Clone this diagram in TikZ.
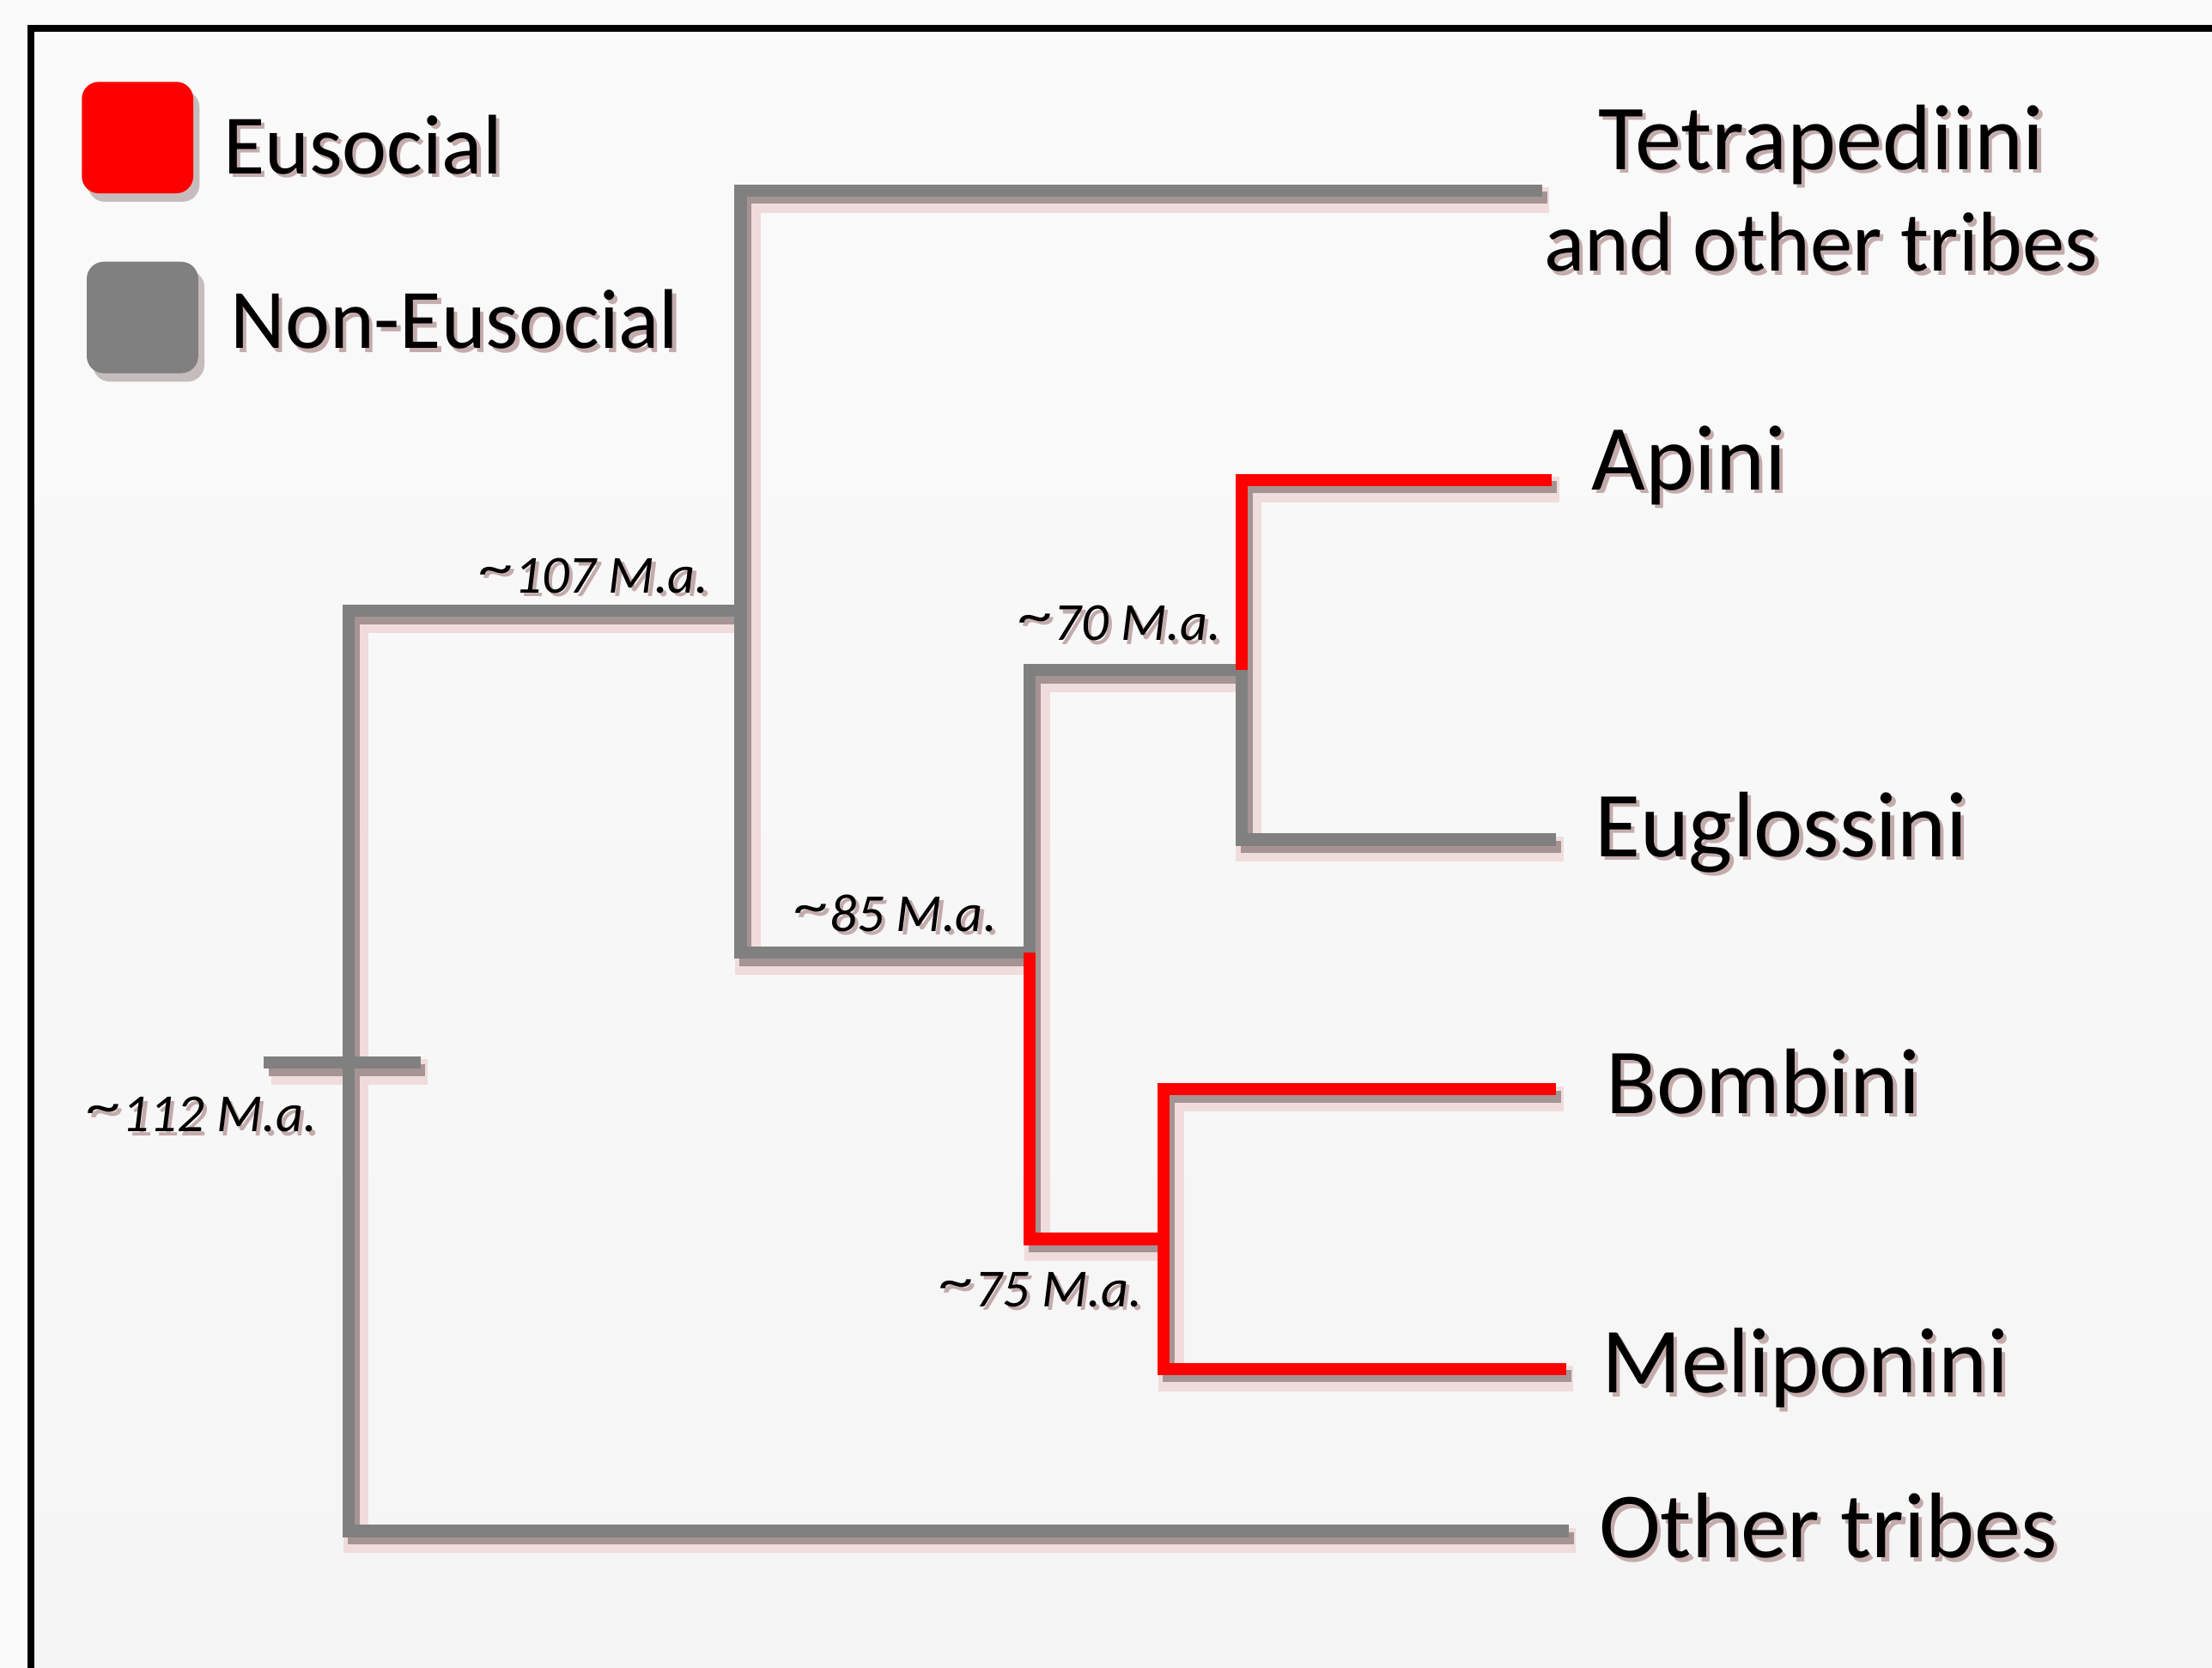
\documentclass[tikz,border=0pt]{standalone}
\usepackage{fontspec}
\usepackage{graphicx}
\setmainfont{Carlito}
\usetikzlibrary{shadows}
\definecolor{brgray}{HTML}{808080}
\definecolor{brred}{HTML}{FF0000}
\definecolor{shpink}{HTML}{F0DCDC}
\definecolor{shdark}{HTML}{A69494}
\definecolor{txshadow}{HTML}{C4ABAB}
\newcommand\shtxt[1]{\makebox[0pt][l]{\hspace{1.3pt}\raisebox{-1.4pt}{\textcolor{txshadow}{#1}}}#1}
\newcommand\tld{\raisebox{0.14em}{\scalebox{1.3}[1.0]{\textasciitilde}}}
\newcommand\treelines[2]{%
  \draw[#1] (tet) -- (c107top) -- (c85) -- (n85) -- (c70) -- (n70) -- (c70bot) -- (eug);
  \draw[#1] (n107) -- (c112top) -- (c112bot) -- (oth);
  \draw[#1] (tickL) -- (tickR);
  \draw[#2] (n85) -- (c75) -- (n75);
  \draw[#2] (bom) -- (c75top) -- (c75bot) -- (mel);
  \draw[#2] (n70) -- (c70top) -- (api);
}
\begin{document}
\begin{tikzpicture}[x=0.5pt,y=-0.5pt,
  branch/.style={line width=4.3pt, line join=miter, line cap=butt},
  gline/.style={branch, draw=brgray},
  rline/.style={branch, draw=brred},
  shadowA/.style={branch, draw=shpink, line width=9pt, transform canvas={shift={(2.6pt,-3.4pt)}}},
  shadowB/.style={branch, draw=shdark, line width=4.3pt, transform canvas={shift={(1.8pt,-2.6pt)}}},
  agelbl/.style={inner sep=0pt, anchor=base east, font=\fontsize{19pt}{22pt}\selectfont\itshape},
  taxlbl/.style={inner sep=0pt, anchor=base west, font=\fontsize{33pt}{38pt}\selectfont},
  leglbl/.style={inner sep=0pt, anchor=base west, font=\fontsize{30pt}{36pt}\selectfont},
  legsq/.style={minimum size=39.5pt, inner sep=0pt, rounded corners=6pt,
    drop shadow={shadow xshift=2.2pt, shadow yshift=-3pt, fill=shdark, opacity=0.6}}]
\useasboundingbox (0,0) rectangle (1568,1182);
\clip (0,0) rectangle (1568,1182);
\fill[white!98!black] (0,0) rectangle (1568,1182);
\draw[line width=2.3pt, top color=white!98!black, bottom color=white!96!black] (22,20) rectangle (1620,1240);
% legend
\node[legsq, fill=brred] (legE) at (97.5,97.5) {};
\node[legsq, fill=brgray] (legN) at (101,225) {};
\node[leglbl] (legEt) at (158,123) {\shtxt{Eusocial}};
\node[leglbl] (legNt) at (163,247) {\shtxt{Non-Eusocial}};
% tree coordinates
\coordinate (tet) at (1093,135);
\coordinate (c107top) at (525,135);
\coordinate (n107) at (525,433);
\coordinate (c85) at (525,675);
\coordinate (n85) at (730,675);
\coordinate (c70) at (730,475);
\coordinate (n70) at (880,475);
\coordinate (c70top) at (880,340);
\coordinate (api) at (1100,340);
\coordinate (c70bot) at (880,595);
\coordinate (eug) at (1103,595);
\coordinate (c75) at (730,878);
\coordinate (n75) at (825,878);
\coordinate (c75top) at (825,772);
\coordinate (bom) at (1103,772);
\coordinate (c75bot) at (825,970);
\coordinate (mel) at (1110,970);
\coordinate (c112top) at (247,433);
\coordinate (n112) at (247,753);
\coordinate (c112bot) at (247,1085);
\coordinate (oth) at (1112,1085);
\coordinate (tickL) at (187,753);
\coordinate (tickR) at (298,753);
\treelines{shadowA}{shadowA}
\treelines{shadowB}{shadowB}
\treelines{gline}{rline}
% age labels
\node[agelbl] (a107) at (503,420) {\shtxt{\tld107 M.a.}};
\node[agelbl] (a70) at (866,454) {\shtxt{\tld70 M.a.}};
\node[agelbl] (a85) at (707,660) {\shtxt{\tld85 M.a.}};
\node[agelbl] (a75) at (810,926) {\shtxt{\tld75 M.a.}};
\node[agelbl] (a112) at (225,802) {\shtxt{\tld112 M.a.}};
% taxa
\node[taxlbl, anchor=base] (tetA) at (1291,120) {\shtxt{Tetrapediini}};
\node[taxlbl, anchor=base, font=\fontsize{30pt}{36pt}\selectfont] (tetB) at (1291,192) {\shtxt{and other tribes}};
\node[taxlbl] (apiT) at (1128,347) {\shtxt{Apini}};
\node[taxlbl] (eugT) at (1130,607) {\shtxt{Euglossini}};
\node[taxlbl] (bomT) at (1138,789) {\shtxt{Bombini}};
\node[taxlbl] (melT) at (1135,987) {\shtxt{Meliponini}};
\node[taxlbl] (othT) at (1133,1104) {\shtxt{Other tribes}};
\end{tikzpicture}
\end{document}
